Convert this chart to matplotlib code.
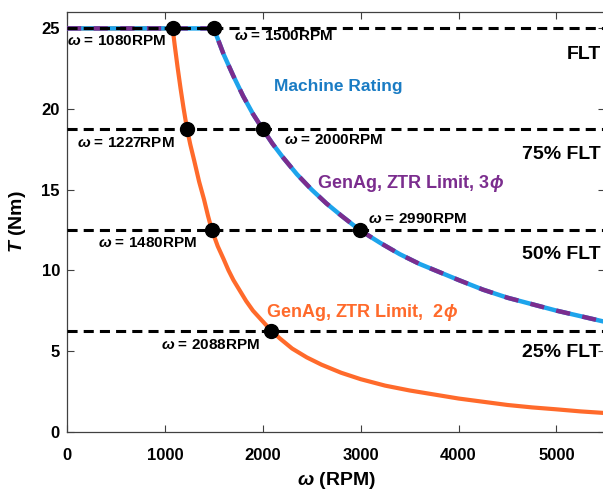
import matplotlib
matplotlib.use("Agg")
import matplotlib.pyplot as plt

plt.rcParams['font.family'] = ['Liberation Sans', 'DejaVu Sans']
plt.rcParams['font.weight'] = 'bold'
plt.rcParams['axes.labelweight'] = 'bold'
plt.rcParams['mathtext.fontset'] = 'custom'
plt.rcParams['mathtext.rm'] = 'Liberation Sans:bold'
plt.rcParams['mathtext.it'] = 'Liberation Sans:italic:bold'
plt.rcParams['mathtext.bf'] = 'Liberation Sans:bold'

# ZTR limit, 2 phase (orange)
w_2ph = [0, 1080, 1100, 1130, 1160, 1190, 1227, 1260, 1300, 1350, 1400, 1440, 1480,
         1540, 1600, 1650, 1700, 1760, 1830, 1900, 1990, 2088, 2180, 2300, 2450, 2600,
         2800, 3000, 3250, 3500, 3750, 4000, 4250, 4500, 4750, 5000, 5250, 5500]
t_2ph = [25, 25, 24.0, 22.6, 21.3, 20.1, 18.75, 17.8, 16.8, 15.5, 14.4, 13.4, 12.5,
         11.5, 10.7, 10.0, 9.4, 8.8, 8.1, 7.5, 6.9, 6.25, 5.75, 5.15, 4.6, 4.15,
         3.65, 3.25, 2.85, 2.55, 2.3, 2.05, 1.85, 1.65, 1.5, 1.38, 1.25, 1.15]

# machine rating / ZTR limit 3 phase (blue + purple)
w_rat = [0, 1500, 1600, 1700, 1800, 1900, 2000, 2100, 2200, 2350, 2500, 2650, 2800,
         2990, 3200, 3400, 3600, 3800, 4000, 4250, 4500, 4750, 5000, 5250, 5500]
t_rat = [25, 25, 23.4, 22.05, 20.8, 19.7, 18.75, 17.85, 17.05, 15.95, 15.0, 14.15, 13.4,
         12.5, 11.7, 11.0, 10.4, 9.9, 9.4, 8.8, 8.3, 7.9, 7.5, 7.15, 6.8]

flt_levels = [25, 18.75, 12.5, 6.25]
flt_labels = ['FLT', '75% FLT', '50% FLT', '25% FLT']

pt_w = [1080, 1500, 1227, 2000, 1480, 2990, 2088]
pt_t = [25, 25, 18.75, 18.75, 12.5, 12.5, 6.25]

ORANGE = '#FF6A2B'
BLUE = '#1DA4EC'
PURPLE = '#7B2D8E'

fig = plt.figure(figsize=(6.03, 4.91), dpi=100)
ax = fig.add_axes([0.111, 0.121, 0.893, 0.854])

ax.plot(w_2ph, t_2ph, color=ORANGE, lw=3.0, zorder=2)
ax.plot(w_rat, t_rat, color=BLUE, lw=3.2, zorder=3)
ax.plot(w_rat, t_rat, color=PURPLE, lw=3.2, dashes=(3.2, 2.8), zorder=4)

for lv in flt_levels:
    ax.axhline(lv, color='black', lw=2.2, dashes=(3.3, 2), zorder=5)

ax.plot(pt_w, pt_t, 'o', color='black', ms=10, zorder=6)

# point annotations
fs = 11
ax.text(0, 24.2, r'$\omega$ = 1080RPM', fontsize=fs, ha='left', va='center')
ax.text(1710, 24.5, r'$\omega$ = 1500RPM', fontsize=fs, ha='left', va='center')
ax.text(100, 17.9, r'$\omega$ = 1227RPM', fontsize=fs, ha='left', va='center')
ax.text(2220, 18.1, r'$\omega$ = 2000RPM', fontsize=fs, ha='left', va='center')
ax.text(320, 11.7, r'$\omega$ = 1480RPM', fontsize=fs, ha='left', va='center')
ax.text(3070, 13.2, r'$\omega$ = 2990RPM', fontsize=fs, ha='left', va='center')
ax.text(960, 5.4, r'$\omega$ = 2088RPM', fontsize=fs, ha='left', va='center')

# curve labels
ax.text(2110, 21.4, 'Machine Rating', fontsize=12.5, color='#1A7CC4', ha='left', va='center')
ax.text(2550, 15.4, r'GenAg, ZTR Limit, 3$\phi$', fontsize=13, color=PURPLE, ha='left', va='center')
ax.text(2030, 7.4, r'GenAg, ZTR Limit,  2$\phi$', fontsize=13, color=ORANGE, ha='left', va='center')

# FLT labels
flt_y = [23.4, 17.2, 11.0, 4.9]
for y, lab in zip(flt_y, flt_labels):
    ax.text(5450, y, lab, fontsize=14, ha='right', va='center')

ax.set_xlim(0, 5500)
ax.set_ylim(0, 26)
ax.set_xticks([0, 1000, 2000, 3000, 4000, 5000])
ax.set_yticks([0, 5, 10, 15, 20, 25])
ax.tick_params(direction='in', top=True, right=True, labelsize=12, length=5,
               width=0.8, color='#404040')
ax.tick_params(axis='x', pad=12)
ax.tick_params(axis='y', pad=5)
for lab in ax.get_xticklabels() + ax.get_yticklabels():
    lab.set_fontweight('bold')
for s in ax.spines.values():
    s.set_color('#404040')
    s.set_linewidth(0.9)

ax.set_xlabel(r'$\omega$ (RPM)', fontsize=14, fontweight='bold', labelpad=5)
ax.set_ylabel(r'$T$ (Nm)', fontsize=14, fontweight='bold', labelpad=10)

fig.savefig('out.png', dpi=100)
